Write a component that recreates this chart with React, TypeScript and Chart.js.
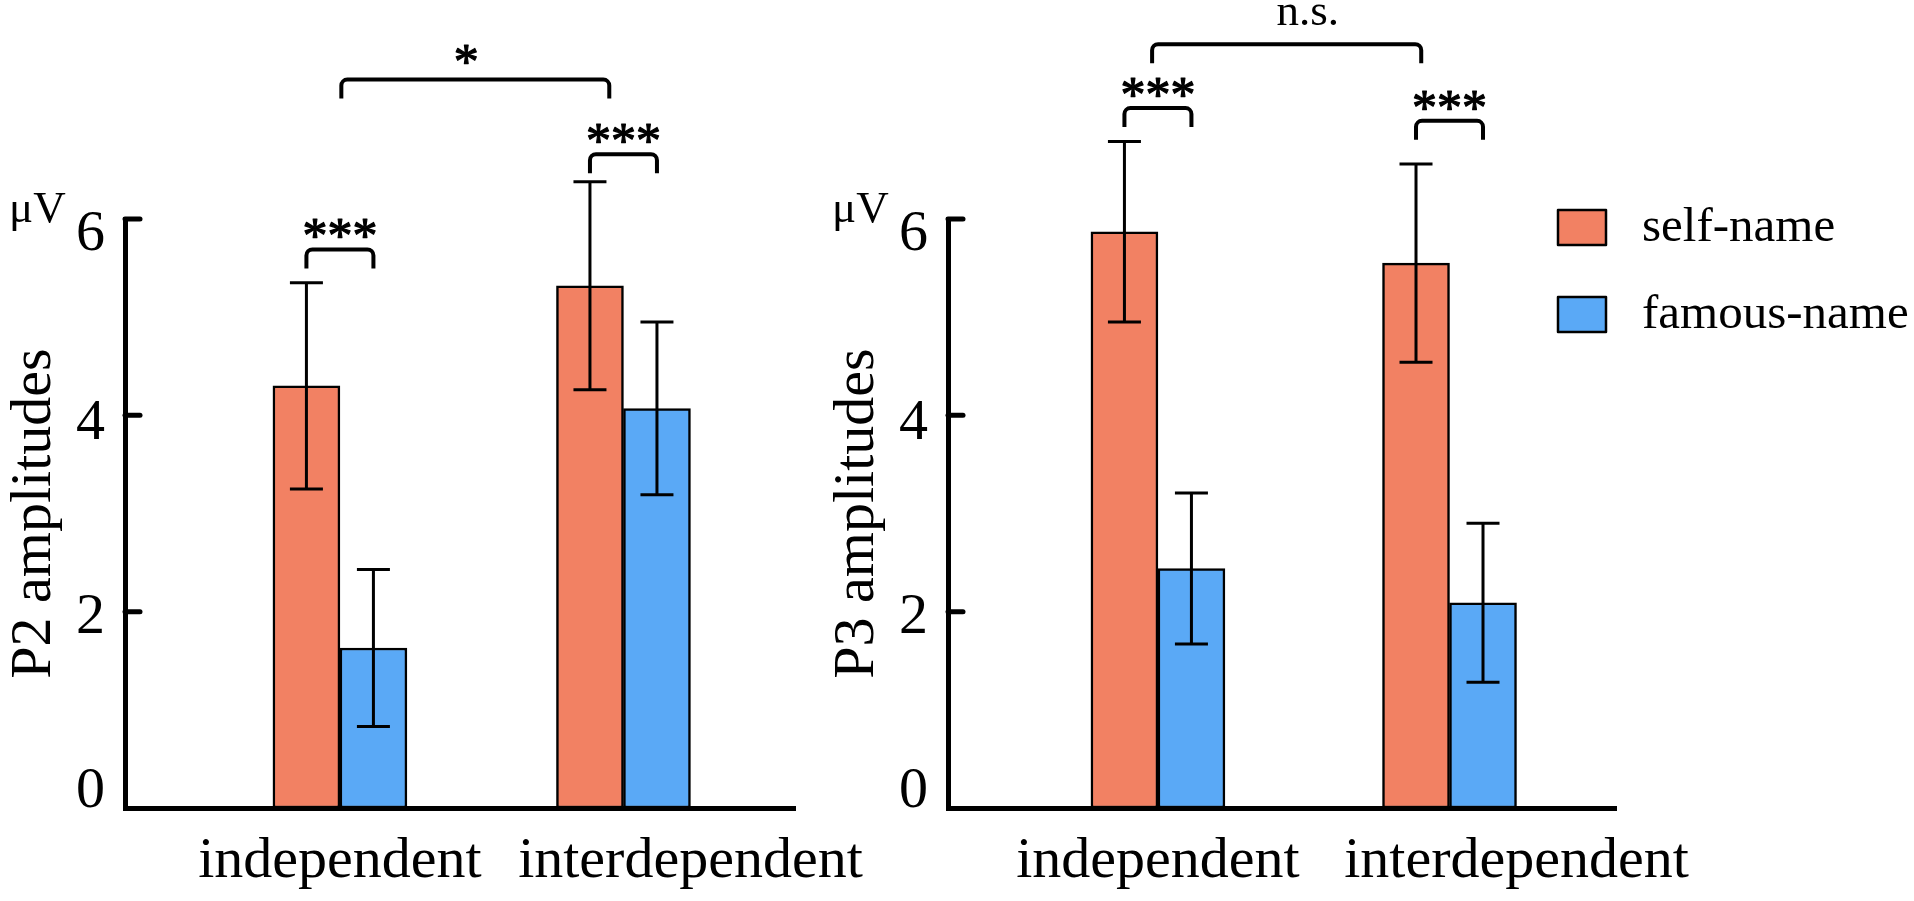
import React, { useEffect, useRef } from 'react';
import { Chart, registerables } from 'chart.js';

Chart.register(...registerables);

// ---------- data ----------
const CATEGORIES = ['independent', 'interdependent'];
const SERIES_NAMES = ['self-name', 'famous-name'];
const Y_TICKS = [0, 2, 4, 6];

const P2_SELF = [4.3, 5.32];
const P2_SELF_SEM = [1.05, 1.06];
const P2_FAMOUS = [1.63, 4.07];
const P2_FAMOUS_SEM = [0.8, 0.88];

const P3_SELF = [5.87, 5.55];
const P3_SELF_SEM = [0.92, 1.01];
const P3_FAMOUS = [2.44, 2.09];
const P3_FAMOUS_SEM = [0.77, 0.81];

// within-category significance (self vs famous): label and bracket level (µV)
const P2_PAIR_LABELS = ['***', '***'];
const P2_PAIR_LEVELS = [5.69, 6.66];
const P3_PAIR_LABELS = ['***', '***'];
const P3_PAIR_LEVELS = [7.13, 7.0];

// between-category comparison: from/to in category units, level in µV
const P2_BETWEEN = { from: 0.005, to: 0.95, level: 7.42, label: '*' };
const P3_BETWEEN = { from: -0.02, to: 0.903, level: 7.78, label: 'n.s.' };

// ---------- styles ----------
const SERIES_COLORS = ['#F28163', '#5AA9F6'];
const FONT = "'Liberation Serif', 'Times New Roman', serif";
const W = 1914;
const H = 901;
const Y_LABEL_NUDGE = [-1, 21, 24, 31];
const X_LABEL_DX = [0, 67];
const STAR_FONT = 50;

type Panel = {
  title: string;
  self: number[];
  selfSem: number[];
  famous: number[];
  famousSem: number[];
  pairLabels: string[];
  pairLevels: number[];
  between: { from: number; to: number; level: number; label: string };
  betweenFont: number;
  betweenDx: number;
  betweenBaseline: number;
  betweenStroke: boolean;
  padding: { left: number; right: number; top: number; bottom: number };
  xMin: number;
  xMax: number;
  legend: boolean;
};

const PANELS: Panel[] = [
  {
    title: 'P2 amplitudes',
    self: P2_SELF,
    selfSem: P2_SELF_SEM,
    famous: P2_FAMOUS,
    famousSem: P2_FAMOUS_SEM,
    pairLabels: P2_PAIR_LABELS,
    pairLevels: P2_PAIR_LEVELS,
    between: P2_BETWEEN,
    betweenFont: STAR_FONT,
    betweenDx: -9,
    betweenBaseline: -2,
    betweenStroke: true,
    padding: { left: 117, right: W - 795, top: 219, bottom: H - 816 },
    xMin: -0.758,
    xMax: 1.605,
    legend: false,
  },
  {
    title: 'P3 amplitudes',
    self: P3_SELF,
    selfSem: P3_SELF_SEM,
    famous: P3_FAMOUS,
    famousSem: P3_FAMOUS_SEM,
    pairLabels: P3_PAIR_LABELS,
    pairLevels: P3_PAIR_LEVELS,
    between: P3_BETWEEN,
    betweenFont: 45,
    betweenDx: 21,
    betweenBaseline: -19,
    betweenStroke: false,
    padding: { left: 940, right: W - 1616, top: 219, bottom: H - 816 },
    xMin: -0.72,
    xMax: 1.571,
    legend: true,
  },
];

function drawBracket(ctx: CanvasRenderingContext2D, x1: number, x2: number, y: number, leg: number) {
  const r = 6;
  ctx.beginPath();
  ctx.moveTo(x1, y + leg);
  ctx.arcTo(x1, y, x2, y, r);
  ctx.arcTo(x2, y, x2, y + leg, r);
  ctx.lineTo(x2, y + leg);
  ctx.stroke();
}

function starText(ctx: CanvasRenderingContext2D, text: string, x: number, y: number, stroke: boolean) {
  ctx.fillText(text, x, y);
  if (stroke) {
    ctx.save();
    ctx.lineWidth = 1.2;
    ctx.lineJoin = 'round';
    ctx.strokeText(text, x, y);
    ctx.restore();
  }
}

function makeOverlay(panel: Panel) {
  return {
    id: 'overlay',
    afterDraw(chart: any) {
      const ctx: CanvasRenderingContext2D = chart.ctx;
      const xs = chart.scales.x;
      const ys = chart.scales.y;
      const area = chart.chartArea;
      const axisX = area.left;
      const values = [panel.self, panel.famous];
      const sems = [panel.selfSem, panel.famousSem];
      ctx.save();
      ctx.fillStyle = '#000';
      ctx.strokeStyle = '#000';

      // error bars
      const CAP = 33;
      ctx.lineWidth = 3;
      ctx.lineCap = 'butt';
      for (let d = 0; d < 2; d++) {
        const meta = chart.getDatasetMeta(d);
        meta.data.forEach((bar: any, j: number) => {
          const v = values[d][j];
          const e = sems[d][j];
          const x = bar.x;
          const yt = ys.getPixelForValue(v + e);
          const yb = ys.getPixelForValue(v - e);
          ctx.beginPath();
          ctx.moveTo(x, yt);
          ctx.lineTo(x, yb);
          ctx.moveTo(x - CAP / 2, yt);
          ctx.lineTo(x + CAP / 2, yt);
          ctx.moveTo(x - CAP / 2, yb);
          ctx.lineTo(x + CAP / 2, yb);
          ctx.stroke();
        });
      }

      // y ticks (inward)
      ctx.lineWidth = 5;
      ctx.lineCap = 'round';
      Y_TICKS.forEach((t) => {
        if (t === 0) return;
        const y = ys.getPixelForValue(t);
        ctx.beginPath();
        ctx.moveTo(axisX, y);
        ctx.lineTo(axisX + 15, y);
        ctx.stroke();
      });

      // y tick labels
      ctx.font = `58px ${FONT}`;
      ctx.textAlign = 'right';
      ctx.textBaseline = 'alphabetic';
      Y_TICKS.forEach((t, i) => {
        ctx.fillText(String(t), axisX - 20, ys.getPixelForValue(t) + Y_LABEL_NUDGE[i]);
      });

      // unit
      ctx.font = `45px ${FONT}`;
      ctx.textAlign = 'left';
      ctx.fillText('μV', axisX - 116, area.top + 3);

      // y title
      ctx.save();
      ctx.translate(axisX - 75, (area.top + area.bottom) / 2);
      ctx.rotate(-Math.PI / 2);
      ctx.font = `58px ${FONT}`;
      ctx.textAlign = 'center';
      ctx.fillText(panel.title, 0, 0);
      ctx.restore();

      // x labels
      ctx.font = `58px ${FONT}`;
      ctx.textAlign = 'center';
      CATEGORIES.forEach((c, j) => {
        ctx.fillText(c, xs.getPixelForValue(j) + X_LABEL_DX[j], area.bottom + 69);
      });

      // significance brackets within category
      ctx.lineCap = 'butt';
      ctx.lineJoin = 'round';
      const m0 = chart.getDatasetMeta(0);
      const m1 = chart.getDatasetMeta(1);
      CATEGORIES.forEach((_, j) => {
        const x1 = m0.data[j].x;
        const x2 = m1.data[j].x;
        const y = ys.getPixelForValue(panel.pairLevels[j]);
        ctx.lineWidth = 4;
        drawBracket(ctx, x1, x2, y, 19);
        ctx.font = `${STAR_FONT}px ${FONT}`;
        ctx.textAlign = 'center';
        starText(ctx, panel.pairLabels[j], (x1 + x2) / 2, y + 3, true);
      });

      // between-category bracket
      const b = panel.between;
      const bx1 = xs.getPixelForValue(b.from);
      const bx2 = xs.getPixelForValue(b.to);
      const by = ys.getPixelForValue(b.level);
      ctx.lineWidth = 4;
      drawBracket(ctx, bx1, bx2, by, 19);
      ctx.font = `${panel.betweenFont}px ${FONT}`;
      ctx.textAlign = 'center';
      starText(ctx, b.label, (bx1 + bx2) / 2 + panel.betweenDx, by + panel.betweenBaseline, panel.betweenStroke);

      // legend
      if (panel.legend) {
        const ds = chart.data.datasets;
        ds.forEach((d: any, i: number) => {
          const base = 241 + i * 87;
          ctx.fillStyle = d.backgroundColor;
          ctx.fillRect(1558, base - 31, 48, 35);
          ctx.lineWidth = 2.5;
          ctx.strokeStyle = '#000';
          ctx.strokeRect(1558, base - 31, 48, 35);
          ctx.fillStyle = '#000';
          ctx.font = `49px ${FONT}`;
          ctx.textAlign = 'left';
          ctx.fillText(d.label, 1642, base);
        });
      }
      ctx.restore();
    },
  };
}

function PanelChart({ panel }: { panel: Panel }) {
  const ref = useRef<HTMLCanvasElement>(null);
  useEffect(() => {
    const canvas = ref.current;
    if (!canvas) return;
    const series = [panel.self, panel.famous];
    const chart = new Chart(canvas, {
      type: 'bar',
      data: {
        datasets: series.map((vals, d) => ({
          label: SERIES_NAMES[d],
          data: CATEGORIES.map((_, i) => ({ x: i, y: vals[i] })),
          backgroundColor: SERIES_COLORS[d],
          borderColor: '#000',
          borderWidth: 2.5,
          borderSkipped: false,
          barThickness: 67,
        })),
      },
      options: {
        animation: false,
        responsive: false,
        maintainAspectRatio: false,
        events: [],
        layout: { padding: panel.padding },
        plugins: {
          legend: { display: false },
          tooltip: { enabled: false },
        },
        scales: {
          x: {
            type: 'linear',
            min: panel.xMin,
            max: panel.xMax,
            offset: false,
            ticks: { display: false },
            grid: { display: false, offset: false },
            border: { display: true, width: 5, color: '#000' },
          },
          y: {
            type: 'linear',
            min: 0,
            max: 6,
            ticks: { display: false, stepSize: 2 },
            grid: { display: false },
            border: { display: true, width: 5, color: '#000' },
          },
        },
      } as any,
      plugins: [makeOverlay(panel)],
    } as any);
    return () => chart.destroy();
  }, [panel]);
  return (
    <canvas
      ref={ref}
      width={W}
      height={H}
      style={{ position: 'absolute', left: 0, top: 0, width: W, height: H }}
    />
  );
}

export default function App() {
  useEffect(() => {
    document.body.style.margin = '0';
    document.body.style.overflow = 'hidden';
  }, []);
  return (
    <div style={{ position: 'absolute', left: 0, top: 0, width: W, height: H, background: '#fff', overflow: 'hidden' }}>
      {PANELS.map((p) => (
        <PanelChart key={p.title} panel={p} />
      ))}
    </div>
  );
}
